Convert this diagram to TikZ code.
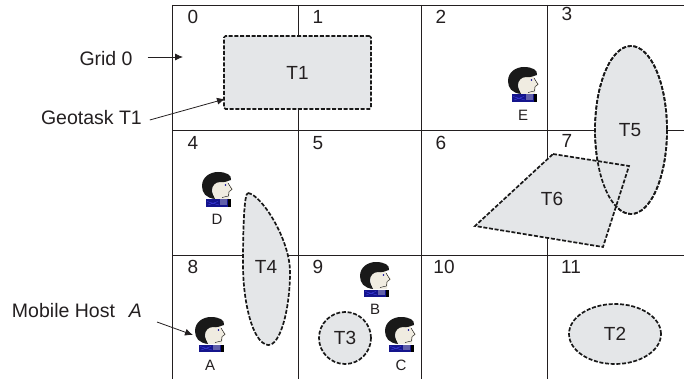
\documentclass[tikz,border=0pt]{standalone}
\usepackage{fontspec}
\setmainfont{Liberation Sans}
\usetikzlibrary{shapes.geometric,arrows.meta}
\definecolor{taskgray}{RGB}{228,230,232}
\definecolor{txt}{RGB}{35,31,32}
\definecolor{scarf}{RGB}{20,20,140}
\definecolor{skin}{RGB}{240,236,225}
\tikzset{
  x=1pt,y=-1pt,
  every node/.style={text=txt,inner sep=0pt,outer sep=0pt},
  gridline/.style={draw=txt,line width=0.8pt},
  taskfill/.style={fill=taskgray,draw=none},
  taskline/.style={draw=black!90,line width=1.7pt,dash pattern=on 4pt off 1.7pt},
  tasklabel/.style={font=\fontsize{19}{19}\selectfont},
  tasknode/.style={taskfill,taskline,tasklabel},
  cellnum/.style={font=\fontsize{19}{19}\selectfont},
  sidelabel/.style={font=\fontsize{19.5}{19}\selectfont},
  hostlabel/.style={font=\fontsize{15}{15}\selectfont},
  pointer/.style={draw=txt,line width=0.8pt,-{Latex[length=8pt,width=7pt]}},
  hostface/.pic={
    % face
    \fill[skin] (9,6) -- (22,3) -- (27,12) -- (31,17) -- (28,20) -- (27,27) -- (12,27) -- cycle;
    \draw[black,line width=0.4pt] (26,11) -- (30,17.5) -- (27,19.5) -- (26.5,24) -- (20,25.5);
    % hair
    \fill[black!90] (13,27) .. controls (4,26) and (0,21) .. (0,14)
      .. controls (0,5) and (8,0) .. (16,0)
      .. controls (24,0) and (30,3) .. (29,8)
      .. controls (25,9) and (22,11) .. (18,10)
      .. controls (13,10) and (10,14) .. (10,18)
      .. controls (10,22) and (12,24) .. (13,27) -- cycle;
    \fill[blue!60!black] (23.5,13) circle (0.8);
    % scarf
    \fill[scarf] (4,27.5) -- (26,27.5) -- (26,35) -- (4,35) -- cycle;
    \fill[black] (26,27.5) rectangle (29,35);
    \fill[skin!35!scarf] (18,27.5) rectangle (25,33);
    \draw[blue!70!white,line width=0.25pt] (5,29.5) -- (17,33) (6,33) -- (16,29.5);
  }
}
\begin{document}
\begin{tikzpicture}
\useasboundingbox (0,0) rectangle (684,379);
% grid
\coordinate (gtl) at (172,5);
\coordinate (gtr) at (684,5);
\coordinate (gml) at (172,130);
\coordinate (gmr) at (684,130);
\coordinate (gnl) at (172,255);
\coordinate (gnr) at (684,255);
\draw[gridline] (gtl) -- (gtr) (gml) -- (gmr) (gnl) -- (gnr);
\draw[gridline] (gtl) -- (172,379) (298,5) -- (298,379) (421,5) -- (421,379) (547,5) -- (547,379);
% cell numbers
\foreach \n/\x/\y in {0/193/17,1/318/17,2/441/17,3/567/14,4/193/143,5/318/143,6/441/143,7/567/141,8/193/267,9/318/267,10/444/267,11/571/267}
  \node[cellnum] (c\n) at (\x,\y) {\n};
% tasks
\node[tasknode,rectangle,rounded corners=1.5pt,minimum width=147pt,minimum height=73pt] (T1) at (297.5,72.5) {T1};
\node[tasknode,ellipse,minimum width=92pt,minimum height=60pt] (T2) at (615,334) {T2};
\node[tasknode,circle,minimum size=52pt] (T3) at (345,338) {T3};
\path[taskfill,taskline] (248,193) .. controls (262,195) and (290,240) .. (290,272)
  .. controls (290,310) and (280,346) .. (268,345)
  .. controls (252,343) and (243,300) .. (243,265)
  .. controls (243,230) and (244,193) .. (248,193) -- cycle;
\node[tasklabel] (T4) at (266,267) {T4};
\path[taskfill,taskline] (631,130) ellipse [x radius=36,y radius=84];
\fill[taskgray] (553,154) -- (629,166) -- (603,247) -- (475,226) -- cycle;
\draw[taskline] (553,154) -- (629,166) -- (603,247) -- (475,226) -- cycle;
\draw[taskline] (631,130) ellipse [x radius=36,y radius=84];
\node[tasklabel] (T5) at (630,130) {T5};
\node[tasklabel] (T6) at (552,199) {T6};
% hosts
\pic at (202,172) {hostface};
\pic at (195,317) {hostface};
\pic at (508,67) {hostface};
\pic at (360,262) {hostface};
\pic at (385,317) {hostface};
\node[hostlabel] (hD) at (217,219) {D};
\node[hostlabel] (hA) at (210,365) {A};
\node[hostlabel] (hE) at (523,115) {E};
\node[hostlabel] (hB) at (375,309) {B};
\node[hostlabel] (hC) at (401,365) {C};
% side labels
\node[sidelabel,anchor=west] (grid) at (79.5,59) {Grid 0};
\node[sidelabel,anchor=west] (geo) at (41,118) {Geotask T1};
\node[sidelabel,anchor=west] (mob) at (12,311) {Mobile Host\hspace{14pt}\textit{A}};
\coordinate (gridend) at (183,57);
\coordinate (t1end) at (225,99);
\coordinate (aend) at (193,335);
\draw[pointer] (grid.east) ++(15,-2) -- (gridend);
\draw[pointer] (geo.east) ++(8,2) -- (t1end);
\draw[pointer] (157,322) -- (aend);
\end{tikzpicture}
\end{document}
